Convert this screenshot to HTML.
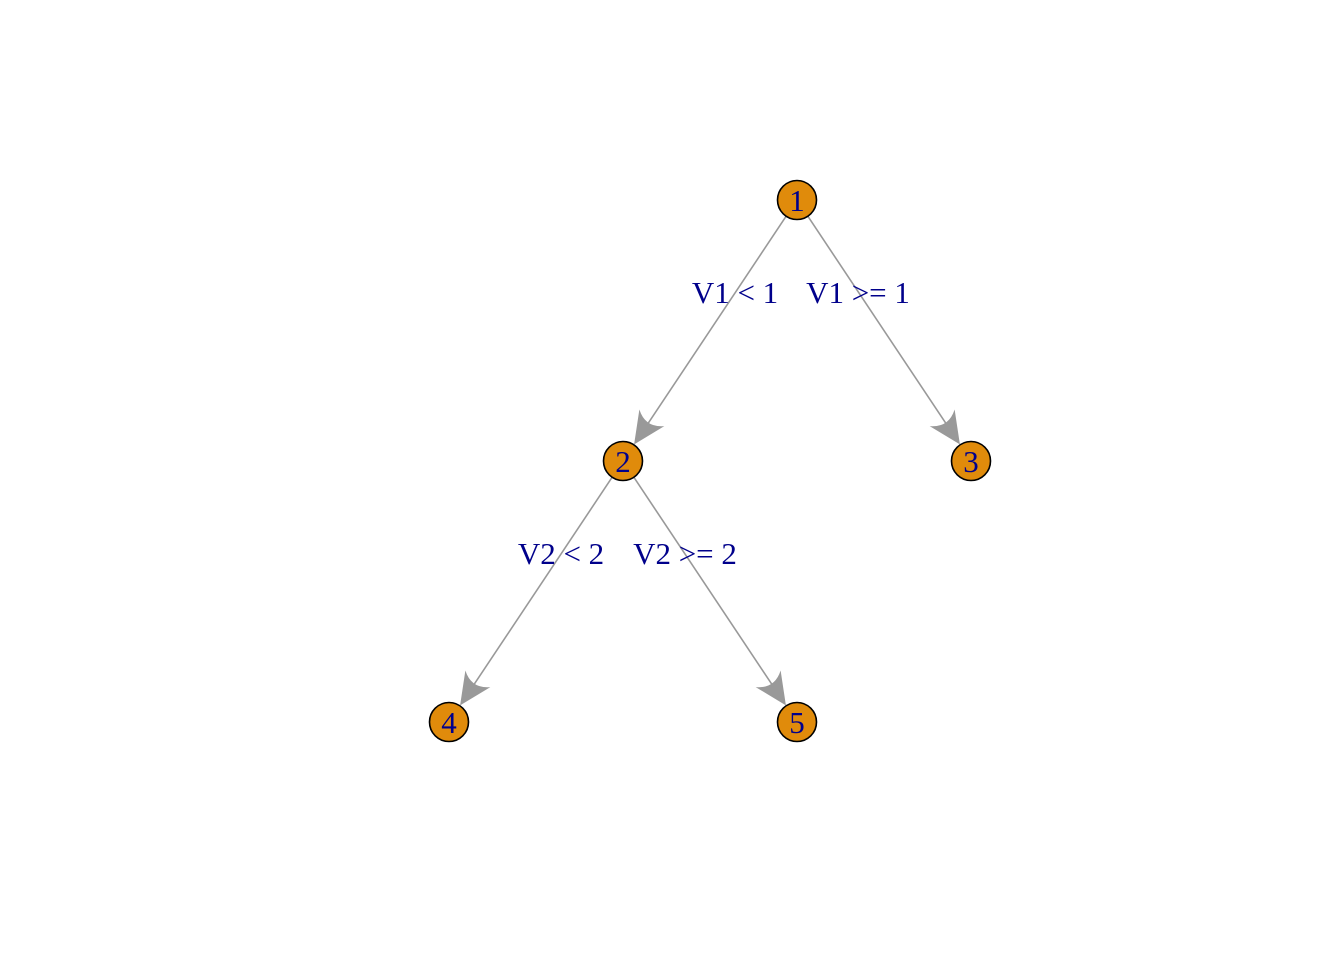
<!DOCTYPE html>
<html><head><meta charset="utf-8"><style>
html,body{margin:0;padding:0;background:#fff;}
svg{display:block}
text{font-family:"Liberation Serif",serif;fill:#00008B;}
</style></head><body>
<svg width="1344" height="960" viewBox="0 0 1344 960">
<defs>
<path id="ah" d="M0,0 L-32,-15 Q-20,0 -32,15 Z" fill="#999"/>
</defs>
<g stroke="#999" stroke-width="1.6" fill="none">
<line x1="785.9" y1="216.6" x2="646.3" y2="426.1"/>
<line x1="808.1" y1="216.6" x2="947.7" y2="426.1"/>
<line x1="611.9" y1="477.6" x2="472.3" y2="687.1"/>
<line x1="634.1" y1="477.6" x2="773.7" y2="687.1"/>
</g>
<use href="#ah" transform="translate(634.1,444.4) rotate(123.7)"/>
<use href="#ah" transform="translate(959.9,444.4) rotate(56.3)"/>
<use href="#ah" transform="translate(460.1,705.4) rotate(123.7)"/>
<use href="#ah" transform="translate(785.9,705.4) rotate(56.3)"/>
<g fill="#E08B0B" stroke="#000" stroke-width="1.6">
<circle cx="797" cy="200" r="19.5"/>
<circle cx="623" cy="461" r="19.5"/>
<circle cx="971" cy="461" r="19.5"/>
<circle cx="449" cy="722" r="19.5"/>
<circle cx="797" cy="722" r="19.5"/>
</g>
<g font-size="31" text-anchor="middle">
<text x="797" y="211">1</text>
<text x="623" y="472">2</text>
<text x="971" y="472">3</text>
<text x="449" y="733">4</text>
<text x="797" y="733">5</text>
<text x="735" y="303">V1 &lt; 1</text>
<text x="858" y="303">V1 &gt;= 1</text>
<text x="561" y="564">V2 &lt; 2</text>
<text x="685" y="564">V2 &gt;= 2</text>
</g>
</svg>
</body></html>
